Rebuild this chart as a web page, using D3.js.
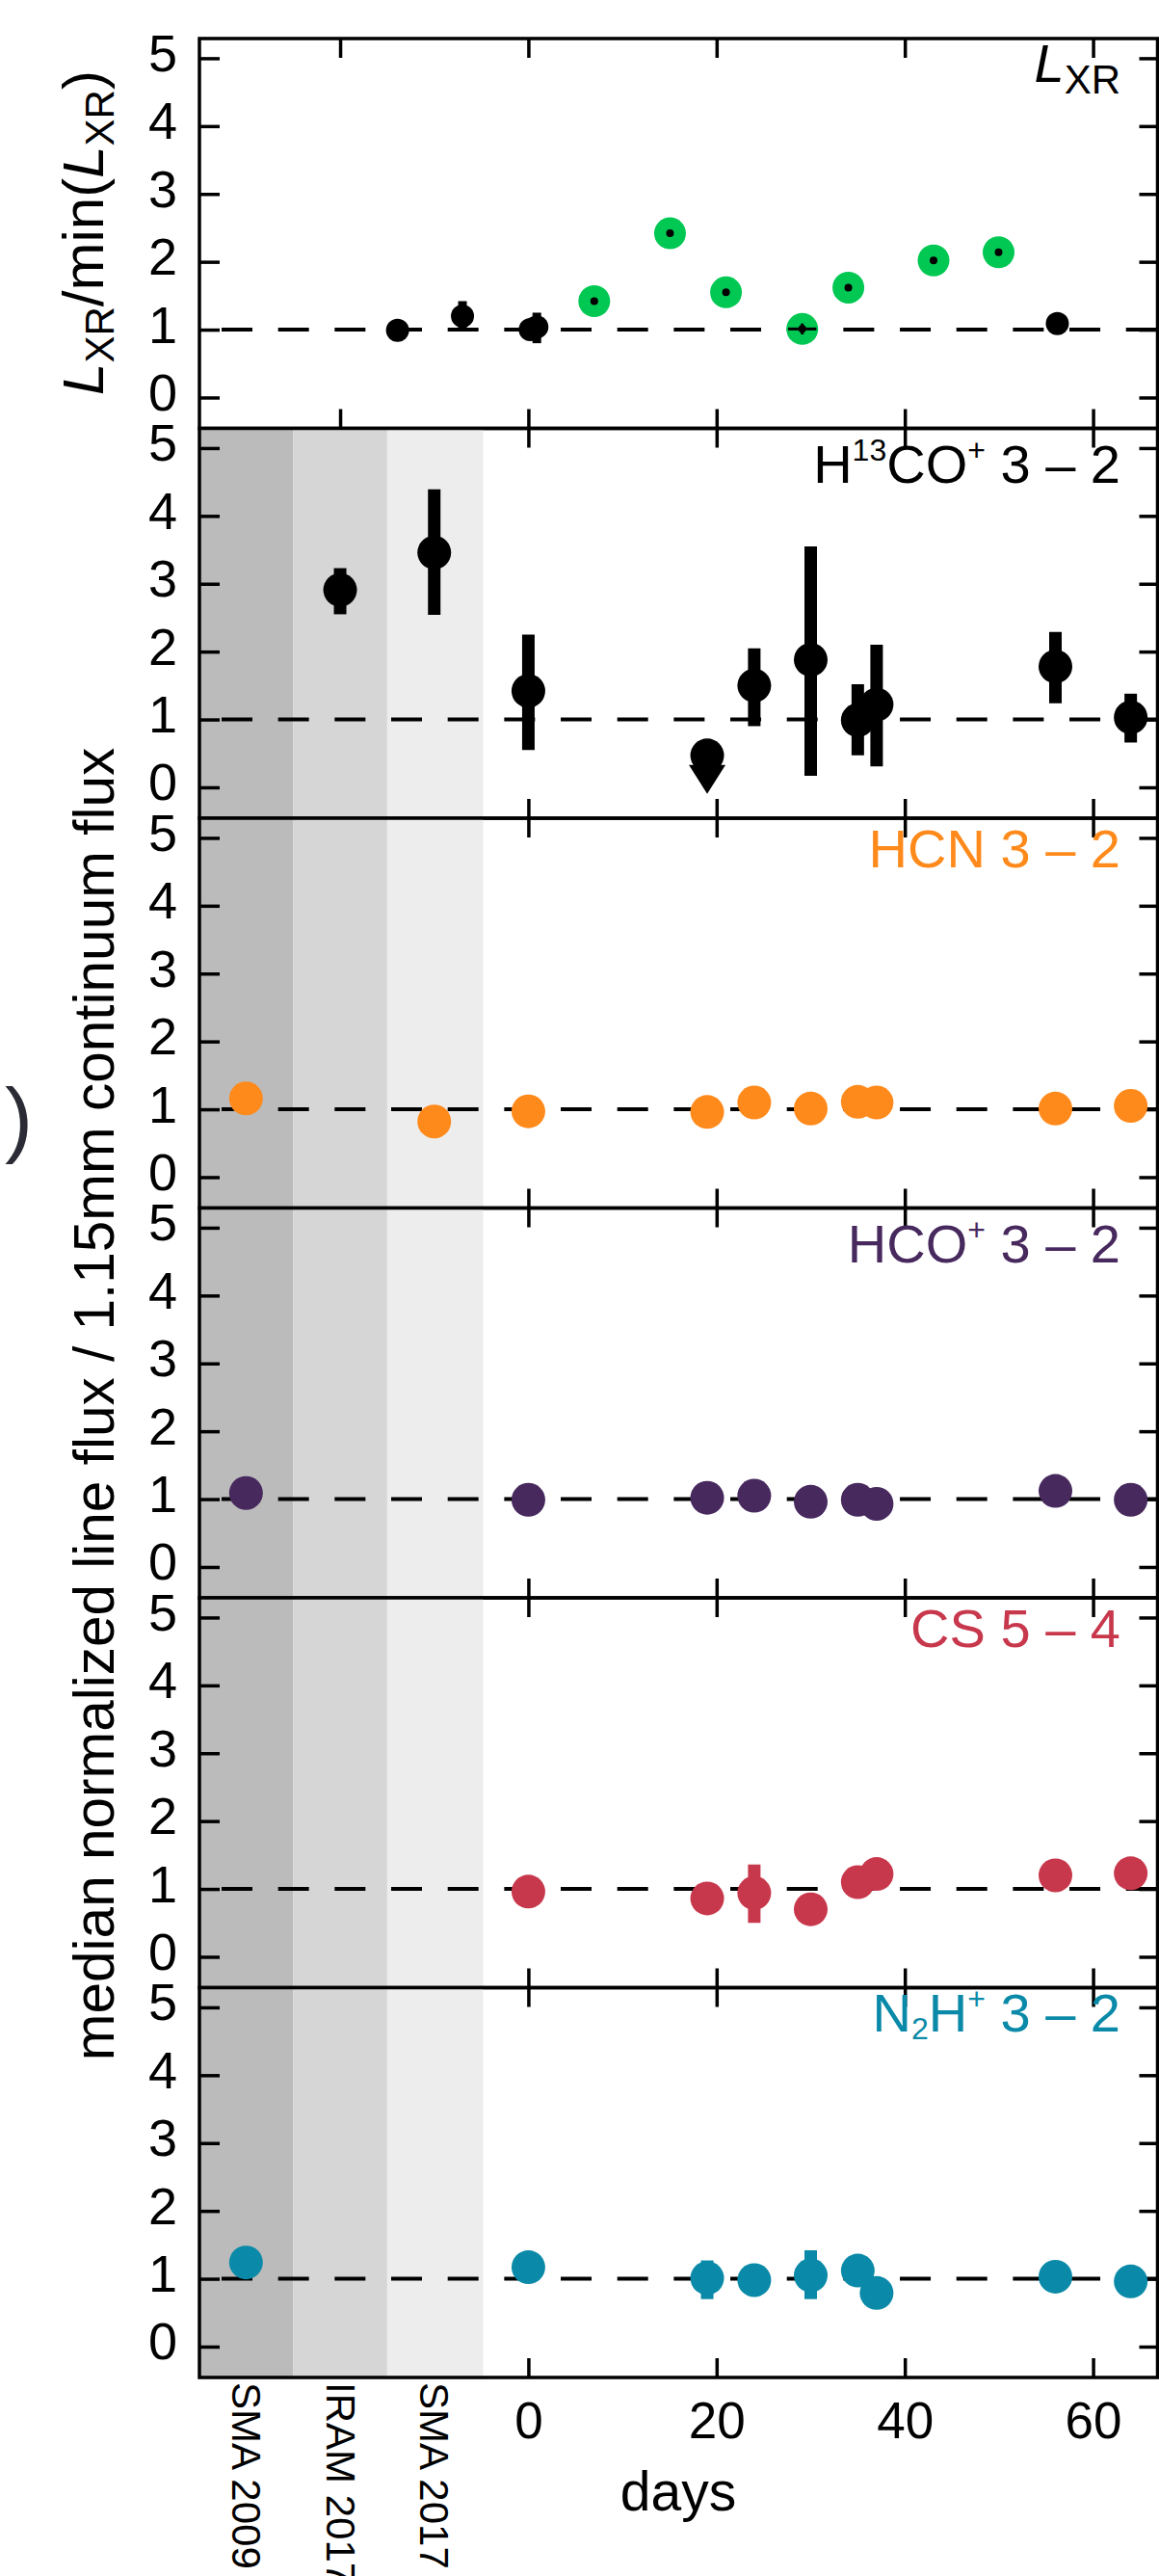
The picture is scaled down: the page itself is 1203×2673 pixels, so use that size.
<!DOCTYPE html>
<html><head><meta charset="utf-8">
<script src="https://cdn.jsdelivr.net/npm/d3@7"></script>
<style>
body{margin:0;background:#fff}
svg text{font-family:"Liberation Sans",Arial,Helvetica,sans-serif}
</style>
</head><body>
<svg id="c" width="1203" height="2673"></svg>
<script>
// ---------------- data ----------------
const obsDays = [-30, -20, -10, 0, 19, 24, 30, 35, 37, 56, 64];
const categoryDays = [-30, -20, -10];
const categoryLabels = ["SMA 2009", "IRAM 2017", "SMA 2017"];
const bandRanges = [[-35, -25], [-25, -15], [-15, -4.8]];
const xTickValues = [-20, 0, 20, 40, 60];
const xLabelValues = [0, 20, 40, 60];
const yTickValues = [0, 1, 2, 3, 4, 5];

// L_XR panel
const lxrBlackDays = [-13.9, -7.0, 0.2, 0.9, 56.2];
const lxrBlackValues = [0.99, 1.20, 1.00, 1.04, 1.09];
const lxrBlackLow = [null, 0.99, null, 0.80, null];
const lxrBlackHigh = [null, 1.42, null, 1.25, null];
const lxrGreenDays = [7.0, 15.05, 21.0, 29.1, 34.0, 43.05, 49.96];
const lxrGreenValues = [1.42, 2.42, 1.55, 1.01, 1.62, 2.02, 2.14];
const lxrGreenDayErr = [0, 0, 0, 1.5, 0, 0, 0];
const lxrGreenValErr = [0, 0, 0, 0.08, 0, 0, 0];

// line panels (aligned with obsDays)
const h13coValues = [null, 2.91, 3.46, 1.42, 0.47, 1.50, 1.88, 0.99, 1.22, 1.78, 1.03];
const h13coLow    = [null, 2.55, 2.54, 0.55, null, 0.90, 0.17, 0.47, 0.31, 1.24, 0.66];
const h13coHigh   = [null, 3.23, 4.39, 2.25, null, 2.05, 3.55, 1.52, 2.10, 2.29, 1.38];
const h13coUpperLimit = [false, false, false, false, true, false, false, false, false, false, false];

const hcnValues = [1.16, null, 0.82, 0.97, 0.96, 1.10, 1.01, 1.11, 1.10, 1.01, 1.05];

const hcoValues = [1.09, null, null, 0.99, 1.02, 1.05, 0.96, 0.99, 0.93, 1.12, 0.99];

const csValues = [null, null, null, 0.96, 0.86, 0.94, 0.70, 1.10, 1.22, 1.20, 1.23];
const csLow    = [null, null, null, null, null, 0.50, null, null, null, null, null];
const csHigh   = [null, null, null, null, null, 1.36, null, null, null, null, null];

const n2hValues = [1.24, null, null, 1.17, 1.01, 0.98, 1.05, 1.12, 0.79, 1.03, 0.96];
const n2hLow    = [null, null, null, null, 0.70, null, 0.70, null, null, null, null];
const n2hHigh   = [null, null, null, null, 1.27, null, 1.42, null, null, null, null];

// ---------------- layout / style ----------------
const plotLeft = 207, plotRight = 1201.5, plotTop = 40, panelH = 404.5;
const bandColors = ["#bbbbbb", "#d6d6d6", "#ededed"];
const green = "#00c853";

const panels = [
  {label: [{t: "L", it: true}, {t: "XR", sub: true}], color: "#000", base: 45, shaded: false},
  {label: [{t: "H"}, {t: "13", sup: true}, {t: "CO"}, {t: "+", sup: true}, {t: " 3 – 2"}], color: "#000", base: 56, shaded: true,
   values: h13coValues, low: h13coLow, high: h13coHigh, upper: h13coUpperLimit},
  {label: [{t: "HCN 3 – 2"}], color: "#ff8a1c", base: 51, shaded: true, values: hcnValues},
  {label: [{t: "HCO"}, {t: "+", sup: true}, {t: " 3 – 2"}], color: "#47295e", base: 56, shaded: true, values: hcoValues},
  {label: [{t: "CS 5 – 4"}], color: "#c8384c", base: 51, shaded: true, values: csValues, low: csLow, high: csHigh},
  {label: [{t: "N"}, {t: "2", sub: true}, {t: "H"}, {t: "+", sup: true}, {t: " 3 – 2"}], color: "#0a8aa8", base: 45, shaded: true,
   values: n2hValues, low: n2hLow, high: n2hHigh}
];

const svg = d3.select("#c");
const x = d3.scaleLinear().domain([-35, 66.85]).range([206.5, 1201.5]);

function styleAxis(sel) {
  sel.select(".domain").remove();
  sel.selectAll(".tick line").attr("stroke", "#000").attr("stroke-width", 3.5);
  sel.selectAll(".tick text").attr("font-size", 54).attr("fill", "#000");
}

function addRich(textSel, parts, baseSize, subSize, supShift, subShift) {
  let prev = 0;
  parts.forEach(p => {
    const shift = p.sup ? supShift : (p.sub ? subShift : 0);
    const ts = textSel.append("tspan").text(p.t).attr("dy", shift - prev);
    if (p.sup || p.sub) ts.attr("font-size", subSize);
    if (p.it) ts.attr("font-style", "italic");
    prev = shift;
  });
}

panels.forEach((p, i) => {
  const top = plotTop + i * panelH, bottom = top + panelH;
  const y = d3.scaleLinear().domain([-0.455, 5.29]).range([bottom, top]);
  const g = svg.append("g");

  if (p.shaded) {
    bandRanges.forEach((b, j) => {
      g.append("rect").attr("x", x(b[0])).attr("width", x(b[1]) - x(b[0]))
        .attr("y", top).attr("height", panelH).attr("fill", bandColors[j]);
    });
  }

  // reference line at 1
  g.append("line").attr("x1", 230).attr("x2", plotRight).attr("y1", y(1)).attr("y2", y(1))
    .attr("stroke", "#000").attr("stroke-width", 4).attr("stroke-dasharray", "32,26.67");

  const xt = p.shaded ? xTickValues.filter(v => v > bandRanges[2][1]) : xTickValues;
  g.append("g").attr("transform", `translate(0,${top})`)
    .call(d3.axisTop(x).tickValues(xt).tickSize(-20).tickSizeOuter(0).tickFormat("")).call(styleAxis);
  g.append("g").attr("transform", `translate(0,${bottom})`)
    .call(d3.axisBottom(x).tickValues(xt).tickSize(-20).tickSizeOuter(0).tickFormat("")).call(styleAxis);
  const la = g.append("g").attr("transform", `translate(${plotLeft},0)`)
    .call(d3.axisLeft(y).tickValues(yTickValues).tickSize(-21).tickSizeOuter(0).tickPadding(23).tickFormat(d3.format("d")))
    .call(styleAxis);
  la.selectAll(".tick text").attr("dy", "0.24em");
  g.append("g").attr("transform", `translate(${plotRight},0)`)
    .call(d3.axisRight(y).tickValues(yTickValues).tickSize(-19).tickSizeOuter(0).tickFormat("")).call(styleAxis);

  // data
  if (i === 0) {
    lxrBlackDays.forEach((d, k) => {
      if (lxrBlackLow[k] != null) {
        g.append("line").attr("x1", x(d)).attr("x2", x(d)).attr("y1", y(lxrBlackLow[k])).attr("y2", y(lxrBlackHigh[k]))
          .attr("stroke", "#000").attr("stroke-width", 9);
      }
      g.append("circle").attr("cx", x(d)).attr("cy", y(lxrBlackValues[k])).attr("r", 12).attr("fill", "#000");
    });
    lxrGreenDays.forEach((d, k) => {
      g.append("circle").attr("cx", x(d)).attr("cy", y(lxrGreenValues[k])).attr("r", 16.5).attr("fill", green);
      g.append("circle").attr("cx", x(d)).attr("cy", y(lxrGreenValues[k])).attr("r", 4).attr("fill", "#000");
      if (lxrGreenDayErr[k] > 0) {
        g.append("line").attr("x1", x(d - lxrGreenDayErr[k])).attr("x2", x(d + lxrGreenDayErr[k]))
          .attr("y1", y(lxrGreenValues[k])).attr("y2", y(lxrGreenValues[k])).attr("stroke", "#000").attr("stroke-width", 3);
        g.append("line").attr("x1", x(d)).attr("x2", x(d))
          .attr("y1", y(lxrGreenValues[k] - lxrGreenValErr[k])).attr("y2", y(lxrGreenValues[k] + lxrGreenValErr[k]))
          .attr("stroke", "#000").attr("stroke-width", 3);
      }
    });
  } else {
    obsDays.forEach((d, k) => {
      const v = p.values[k];
      if (v == null) return;
      if (p.low && p.low[k] != null) {
        g.append("line").attr("x1", x(d)).attr("x2", x(d)).attr("y1", y(p.low[k])).attr("y2", y(p.high[k]))
          .attr("stroke", p.color).attr("stroke-width", 13);
      }
      if (p.upper && p.upper[k]) {
        const cx = x(d), cy = y(v);
        g.append("path").attr("d", `M${cx - 19},${cy + 10}L${cx + 19},${cy + 10}L${cx},${cy + 40}Z`).attr("fill", p.color);
      }
      g.append("circle").attr("cx", x(d)).attr("cy", y(v)).attr("r", 17.5).attr("fill", p.color);
    });
  }

  // frame
  g.append("rect").attr("x", plotLeft).attr("y", top).attr("width", plotRight - plotLeft).attr("height", panelH)
    .attr("fill", "none").attr("stroke", "#000").attr("stroke-width", 3.5);

  // panel label
  const t = g.append("text").attr("x", 1163).attr("y", top + p.base).attr("text-anchor", "end")
    .attr("font-size", 56).attr("fill", p.color);
  if (i === 0) addRich(t, p.label, 56, 42, -23, 12);
  else addRich(t, p.label, 56, 32, -23, 8);

  // bottom axis labels for last panel
  if (i === panels.length - 1) {
    const ba = g.append("g").attr("transform", `translate(0,${bottom})`)
      .call(d3.axisBottom(x).tickValues(xLabelValues).tickSize(0).tickFormat(d3.format("d")));
    ba.select(".domain").remove();
    ba.selectAll(".tick text").attr("y", 63).attr("dy", 0).attr("font-size", 53).attr("fill", "#000");
    const ca = g.append("g").attr("transform", `translate(0,${bottom})`)
      .call(d3.axisBottom(x).tickValues(categoryDays).tickSize(0).tickFormat((d, j) => categoryLabels[j]));
    ca.select(".domain").remove();
    ca.selectAll(".tick text").attr("x", 0).attr("y", 0).attr("dy", 0)
      .attr("transform", "translate(-15,5) rotate(90)").attr("text-anchor", "start")
      .attr("font-size", 42).attr("fill", "#000");
  }
});

// axis titles
const yl1 = svg.append("text").attr("transform", "translate(107,241.5) rotate(-90)")
  .attr("text-anchor", "middle").attr("font-size", 60).attr("fill", "#000");
addRich(yl1, [{t: "L", it: true}, {t: "XR", sub: true}, {t: "/min("}, {t: "L", it: true}, {t: "XR", sub: true}, {t: ")"}], 60, 42, -23, 11);

svg.append("text").attr("transform", "translate(118,1457) rotate(-90)")
  .attr("text-anchor", "middle").attr("font-size", 58.5).attr("fill", "#000")
  .text("median normalized line flux / 1.15mm continuum flux");

svg.append("text").attr("x", 704).attr("y", 2605).attr("text-anchor", "middle")
  .attr("font-size", 57).attr("fill", "#000").text("days");

svg.append("text").attr("x", 5).attr("y", 1190).attr("font-size", 87).attr("fill", "#2b2b35").text(")");
</script>
</body></html>
